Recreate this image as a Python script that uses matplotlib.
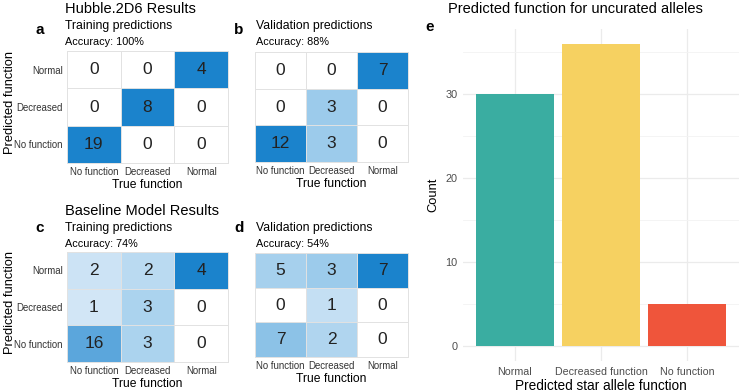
import numpy as np
import matplotlib
matplotlib.use("Agg")
import matplotlib.pyplot as plt
from matplotlib.colors import LinearSegmentedColormap

plt.rcParams['font.family'] = ['Liberation Sans', 'DejaVu Sans']

W, H = 740, 392

# confusion matrices: rows = predicted (Normal, Decreased, No function), cols = true
row_labels = ["Normal", "Decreased", "No function"]
col_labels = ["No function", "Decreased", "Normal"]

hubble_train = [[0, 0, 4], [0, 8, 0], [19, 0, 0]]
hubble_valid = [[0, 0, 7], [0, 3, 0], [12, 3, 0]]
base_train = [[2, 2, 4], [1, 3, 0], [16, 3, 0]]
base_valid = [[5, 3, 7], [0, 1, 0], [7, 2, 0]]

acc_labels = ["Accuracy: 100%", "Accuracy: 88%", "Accuracy: 74%", "Accuracy: 54%"]

# panel e
bar_cats = ["Normal", "Decreased function", "No function"]
bar_counts = [30, 36, 5]
bar_colors = ["#3aada1", "#f6d161", "#ef553b"]

cmap = LinearSegmentedColormap.from_list(
    "blues", [(0, "#d8e9f7"), (0.5, "#9ccbeb"), (0.85, "#5aa5dc"), (1, "#1b83cc")])
cmap = cmap.with_extremes(under="white")


def box(x0, y0, x1, y1):
    return [x0 / W, 1 - y1 / H, (x1 - x0) / W, (y1 - y0) / H]


def ftext(x, y, s, **kw):
    fig.text(x / W, 1 - y / H, s, **kw)


def heat(ax, mat, ylab):
    m = np.array(mat, dtype=float)
    frac = m / m.sum(axis=0, keepdims=True)
    frac = frac[::-1]  # bottom row first for pcolormesh
    ax.pcolormesh(frac, cmap=cmap, vmin=1e-6, vmax=1, edgecolors="none")
    for k in (1, 2):
        ax.axhline(k, color="#e2e2e2", linewidth=0.7)
        ax.axvline(k, color="#e2e2e2", linewidth=0.7)
    for i in range(3):
        for j in range(3):
            ax.text(j + 0.5, 2 - i + 0.5, str(mat[i][j]), ha="center", va="center",
                    fontsize=12.5, color="#222222")
    ax.set_xlim(0, 3)
    ax.set_ylim(0, 3)
    ax.set_xticks([0.5, 1.5, 2.5])
    ax.set_xticklabels(col_labels, fontsize=6.9, color="#333333")
    ax.set_yticks([0.5, 1.5, 2.5])
    if ylab:
        ax.set_yticklabels(row_labels[::-1], fontsize=6.9, color="#333333")
    else:
        ax.set_yticklabels([])
    ax.tick_params(length=0, pad=3)
    ax.set_xlabel("True function", fontsize=8.7, labelpad=1)
    for s in ax.spines.values():
        s.set_color("#e2e2e2")
        s.set_linewidth(0.7)


fig = plt.figure(figsize=(W / 100, H / 100), dpi=100)

ax_a = fig.add_axes(box(67, 51, 228, 163))
ax_b = fig.add_axes(box(255, 52, 408, 162))
ax_c = fig.add_axes(box(67, 252, 228, 362))
ax_d = fig.add_axes(box(255, 253, 408, 357))

heat(ax_a, hubble_train, True)
heat(ax_b, hubble_valid, False)
heat(ax_c, base_train, True)
heat(ax_d, base_valid, False)

# row titles of the heatmaps
ftext(10, 103, "Predicted function", fontsize=9.3, rotation=90, ha="center", va="center")
ftext(10, 302, "Predicted function", fontsize=9.3, rotation=90, ha="center", va="center")

# titles
ftext(65, 13, "Hubble.2D6 Results", fontsize=10.5, va="baseline")
ftext(65, 29.5, "Training predictions", fontsize=8.8, va="baseline")
ftext(65, 45, acc_labels[0], fontsize=7.8, va="baseline")
ftext(256, 29.5, "Validation predictions", fontsize=8.8, va="baseline")
ftext(256, 45, acc_labels[1], fontsize=7.8, va="baseline")

ftext(65, 215, "Baseline Model Results", fontsize=10.5, va="baseline")
ftext(65, 231, "Training predictions", fontsize=8.8, va="baseline")
ftext(65, 247, acc_labels[2], fontsize=7.8, va="baseline")
ftext(256, 231, "Validation predictions", fontsize=8.8, va="baseline")
ftext(256, 247, acc_labels[3], fontsize=7.8, va="baseline")

for lab, x, y in [("a", 35, 34), ("b", 234, 34), ("c", 35, 232), ("d", 234, 232), ("e", 425, 31)]:
    ftext(x, y, lab, fontsize=11, fontweight="bold", va="baseline")

# panel e
ax_e = fig.add_axes(box(463, 28.5, 739, 361))
xs = np.arange(1, len(bar_cats) + 1)
ax_e.set_axisbelow(True)
ax_e.bar(xs, bar_counts, width=0.9, color=bar_colors, zorder=2)
ax_e.set_xlim(0.4, 3.6)
ax_e.set_ylim(-1.8, 37.8)
ax_e.set_yticks([0, 10, 20, 30])
ax_e.set_yticks([5, 15, 25, 35], minor=True)
ax_e.set_xticks(xs)
ax_e.set_xticklabels(bar_cats, fontsize=7.7, color="#4d4d4d")
ax_e.tick_params(axis="y", labelsize=7.8, labelcolor="#4d4d4d")
ax_e.tick_params(which="both", length=0, pad=4)
ax_e.grid(which="major", color="#ebebeb", linewidth=0.9)
ax_e.grid(which="minor", axis="y", color="#f3f3f3", linewidth=0.6)
for s in ax_e.spines.values():
    s.set_visible(False)
ax_e.set_ylabel("Count", fontsize=9.3, labelpad=4)
ax_e.set_xlabel("Predicted star allele function", fontsize=9.8, labelpad=2)
ftext(448, 13, "Predicted function for uncurated alleles", fontsize=10.5, va="baseline")

fig.savefig("out.png", dpi=100)
